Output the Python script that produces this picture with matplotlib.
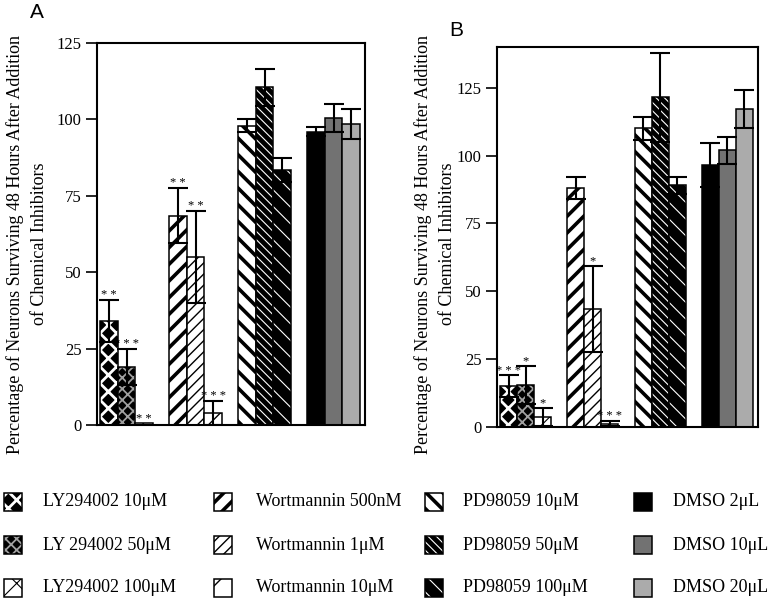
import matplotlib
matplotlib.use("Agg")
import matplotlib.pyplot as plt
from matplotlib.patches import Rectangle
import numpy as np

plt.rcParams['font.family'] = ['Liberation Serif', 'DejaVu Serif']

# treatments (same order in both panels and in the key)
labels = ["LY294002 10\u03bcM", "LY 294002 50\u03bcM", "LY294002 100\u03bcM",
          "Wortmannin 500nM", "Wortmannin 1\u03bcM", "Wortmannin 10\u03bcM",
          "PD98059 10\u03bcM", "PD98059 50\u03bcM", "PD98059 100\u03bcM",
          "DMSO 2\u03bcL", "DMSO 10\u03bcL", "DMSO 20\u03bcL"]

# panel A
a_vals = [34, 19, 0.5, 68.5, 55, 4, 98, 110.5, 83.5, 96, 100.5, 98.5]
a_errs = [7, 6, 0, 9, 15, 4, 2, 6, 4, 1.4, 4.5, 5]
a_stars = [2, 3, 2, 2, 2, 3, 0, 0, 0, 0, 0, 0]

# panel B
b_vals = [15, 15.5, 3.7, 88, 43.5, 1.2, 110, 121.5, 89, 96.5, 102, 117]
b_errs = [4, 7, 3.3, 4, 16, 1, 4.3, 16.3, 3, 8, 5, 7]
b_stars = [3, 1, 1, 0, 1, 3, 0, 0, 0, 0, 0, 0]

yticks = [0, 25, 50, 75, 100, 125]
ylabel_lines = ["Percentage of Neurons Surviving 48 Hours After Addition",
                "of Chemical Inhibitors"]

# fill styles: (face, hatch, hatch colour, hatch linewidth)
styles = [
    ("black", "xx", "white", 2.0),
    ("black", "xxx", "#a0a0a0", 1.3),
    ("white", "x", "black", 0.8),
    ("white", "//", "black", 2.6),
    ("white", "///", "black", 1.0),
    ("white", "/", "black", 1.0),
    ("white", "\\\\", "black", 2.6),
    ("black", "\\\\\\\\", "white", 0.8),
    ("black", "\\\\", "white", 0.8),
    ("black", None, "black", 1.0),
    ("#727272", None, "black", 1.0),
    ("#ababab", None, "black", 1.0),
]


def patterned(ax, draw, style):
    face, hatch, hcol, hlw = style
    with plt.rc_context({'hatch.linewidth': hlw}):
        arts = draw(ax, facecolor=face, hatch=hatch, edgecolor=hcol, linewidth=0)
    for a in arts:
        if hasattr(a, "set_hatch_linewidth"):
            a.set_hatch_linewidth(hlw)
    draw(ax, fill=False, edgecolor="black", linewidth=1.1)


def panel(ax, vals, errs, stars, ytop):
    x = np.array([g * 3.95 + j + 0.5 for g in range(4) for j in range(3)])
    for i in range(len(vals)):
        def draw(a, i=i, **kw):
            return a.bar(x[i], vals[i], width=1.0, zorder=2, **kw)
        patterned(ax, draw, styles[i])
        if errs[i] > 0:
            ax.errorbar(x[i], vals[i], yerr=errs[i], color="black", lw=1.5,
                        capsize=7.5, capthick=1.5, zorder=3)
        if stars[i]:
            ax.text(x[i], vals[i] + errs[i] + 0.6, " ".join("*" * stars[i]),
                    ha="center", va="baseline", fontsize=9, zorder=4)
    ax.set_xlim(-0.19, 15.15)
    ax.set_ylim(0, ytop)
    ax.set_yticks(yticks)
    ax.set_xticks([])
    ax.tick_params(axis="y", direction="out", length=8, width=1.2, pad=3,
                   labelsize=12)
    for s in ax.spines.values():
        s.set_linewidth(1.5)


fig = plt.figure(figsize=(7.74, 6.04), dpi=100)
ax_a = fig.add_axes([0.1253, 0.2964, 0.3463, 0.6324])
ax_b = fig.add_axes([0.6421, 0.2930, 0.3372, 0.6291])
panel(ax_a, a_vals, a_errs, a_stars, 125)
panel(ax_b, b_vals, b_errs, b_stars, 140)

# two-line rotated y label, one text per line
for x0 in (27.5, 435):
    fig.text((x0 - 12) / 774, 0.596, ylabel_lines[0], rotation=90,
             ha="center", va="center", fontsize=13)
    fig.text((x0 + 12) / 774, 0.596, ylabel_lines[1], rotation=90,
             ha="center", va="center", fontsize=13)
fig.text(37 / 774, 1 - 13 / 604, "A", ha="center", va="center", fontsize=15,
         family="Liberation Sans")
fig.text(456 / 774, 1 - 31 / 604, "B", ha="center", va="center", fontsize=15,
         family="Liberation Sans")

# key at the bottom, in pixel units
ax_k = fig.add_axes([0, 0, 1, 124 / 604])
ax_k.set_xlim(0, 774)
ax_k.set_ylim(604, 480)
ax_k.axis("off")
icon_x = [4, 214, 425, 634]
text_x = [43, 256, 463, 673]
row_y = [502, 545, 588]
for i, lab in enumerate(labels):
    c, r = divmod(i, 3)

    def draw(a, c=c, r=r, **kw):
        p = a.add_patch(Rectangle((icon_x[c], row_y[r] - 9), 18, 18, **kw))
        return [p]
    patterned(ax_k, draw, styles[i])
    ax_k.text(text_x[c], row_y[r], lab, ha="left", va="center", fontsize=13)

fig.savefig("out.png", dpi=100)
